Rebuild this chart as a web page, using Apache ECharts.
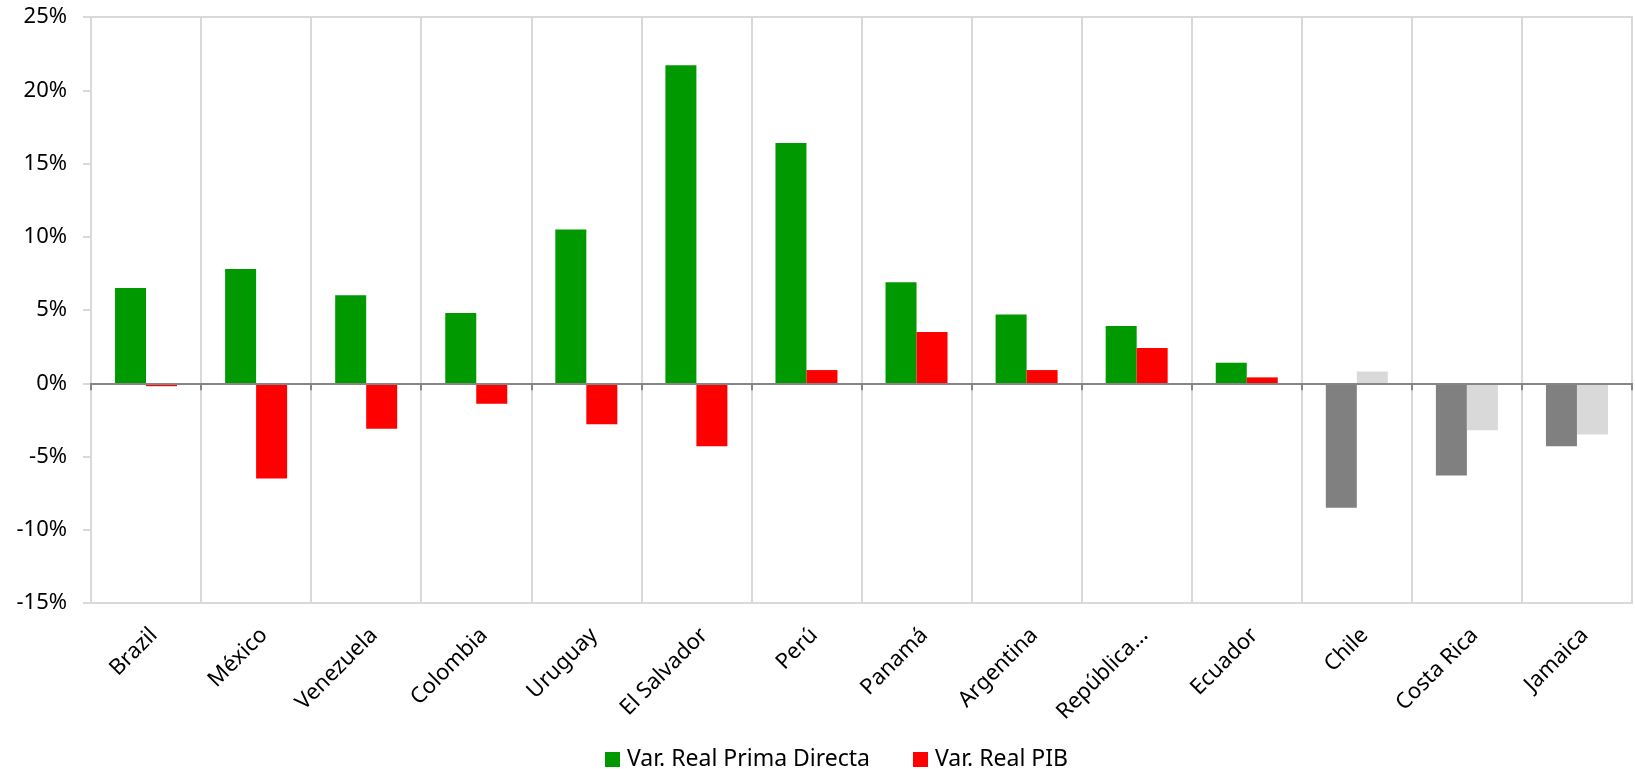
<!DOCTYPE html>
<html>
<head>
<meta charset="utf-8">
<script src="https://cdn.jsdelivr.net/npm/echarts@6/dist/echarts.min.js"></script>
<style>
  html, body { margin: 0; padding: 0; background: #fff; }
  #chart { width: 1635px; height: 769px; }
</style>
</head>
<body>
<div id="chart"></div>
<script>
// países y variaciones reales (%)
var paises = ['Brazil', 'México', 'Venezuela', 'Colombia', 'Uruguay', 'El Salvador', 'Perú',
  'Panamá', 'Argentina', 'República...', 'Ecuador', 'Chile', 'Costa Rica', 'Jamaica'];
var primaDirecta = [6.5, 7.8, 6.0, 4.8, 10.5, 21.7, 16.4, 6.9, 4.7, 3.9, 1.4, -8.5, -6.3, -4.3];
var pib = [-0.2, -6.5, -3.1, -1.4, -2.8, -4.3, 0.9, 3.5, 0.9, 2.4, 0.4, 0.8, -3.2, -3.5];
// los últimos tres van en gris
var enGris = ['Chile', 'Costa Rica', 'Jamaica'];

var FONT = 'Noto Sans';
var GRID_GRAY = '#d9d9d9';

function conColor(valores, normal, gris) {
  return valores.map(function (v, i) {
    return { value: v, itemStyle: { color: enGris.indexOf(paises[i]) >= 0 ? gris : normal } };
  });
}

var chart = echarts.init(document.getElementById('chart'), null, { renderer: 'canvas' });
chart.setOption({
  backgroundColor: '#ffffff',
  animation: false,
  grid: {
    left: 91, right: 3, top: 17, bottom: 166,
    show: true, borderColor: GRID_GRAY, borderWidth: 2,
    outerBoundsMode: 'none'
  },
  legend: {
    left: 600, top: 743,
    itemWidth: 15, itemHeight: 15, itemGap: 43,
    icon: 'rect',
    textStyle: { fontFamily: FONT, fontSize: 23, color: '#000', padding: [0, 0, 0, 2] },
    data: ['Var. Real Prima Directa', 'Var. Real PIB']
  },
  xAxis: [{
    type: 'category',
    data: paises,
    axisLine: { show: true, onZero: false, lineStyle: { color: GRID_GRAY, width: 2 } },
    axisTick: { show: false },
    splitLine: { show: true, interval: 0, lineStyle: { color: GRID_GRAY, width: 2 } },
    axisLabel: {
      interval: 0, rotate: 45, margin: 21,
      align: 'right', verticalAlign: 'top',
      fontFamily: FONT, fontSize: 22, color: '#000'
    }
  }, {
    // línea del cero con marcas entre categorías
    type: 'category',
    data: paises,
    position: 'bottom',
    z: 5,
    axisLine: { show: true, onZero: true, lineStyle: { color: '#868686', width: 2 } },
    axisTick: { show: true, length: 7, lineStyle: { color: '#868686', width: 2 } },
    axisLabel: { show: false },
    splitLine: { show: false }
  }],
  yAxis: {
    type: 'value',
    min: -15, max: 25, interval: 5,
    axisLine: { show: true, lineStyle: { color: GRID_GRAY, width: 2 } },
    axisTick: { show: true, length: 8, lineStyle: { color: GRID_GRAY, width: 2 } },
    splitLine: { show: false },
    axisLabel: {
      margin: 24, formatter: '{value}%',
      fontFamily: FONT, fontSize: 22, color: '#000'
    }
  },
  series: [{
    name: 'Var. Real Prima Directa',
    type: 'bar',
    xAxisIndex: 0,
    barWidth: 31, barGap: '0%',
    itemStyle: { color: '#009900' },
    data: conColor(primaDirecta, '#009900', '#808080')
  }, {
    name: 'Var. Real PIB',
    type: 'bar',
    xAxisIndex: 0,
    barWidth: 31, barGap: '0%',
    itemStyle: { color: '#ff0000' },
    data: conColor(pib, '#ff0000', '#d9d9d9')
  }]
});
</script>
</body>
</html>
